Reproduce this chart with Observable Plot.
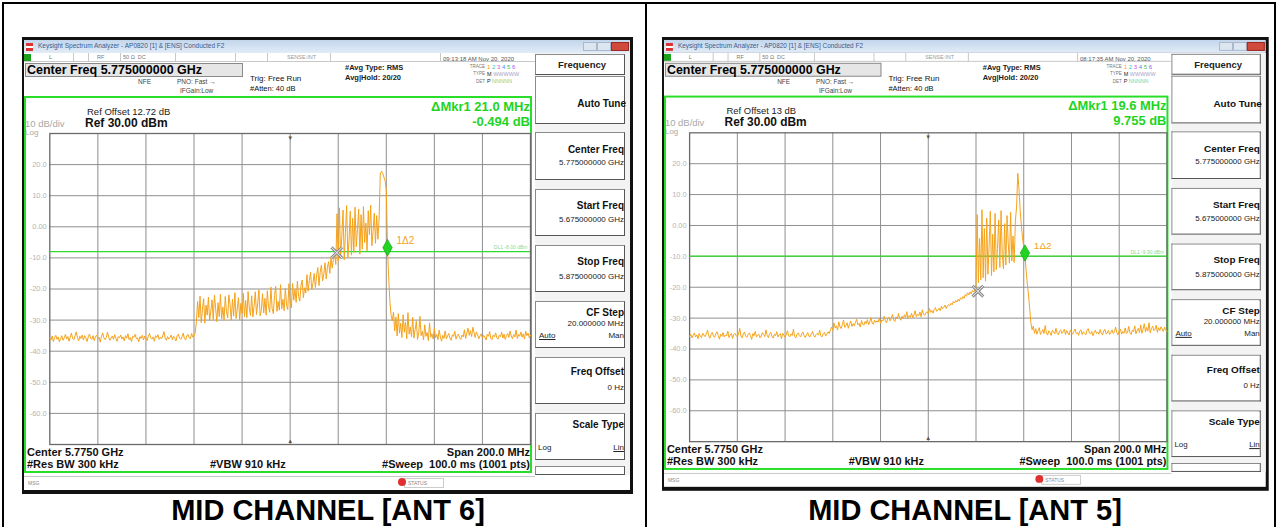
<!DOCTYPE html>
<html><head><meta charset="utf-8">
<script src="https://cdn.jsdelivr.net/npm/d3@7"></script>
<script src="https://cdn.jsdelivr.net/npm/@observablehq/plot@0.6"></script>
<style>
html,body{margin:0;padding:0;background:#fff}
body{width:1278px;height:527px;position:relative;overflow:hidden;font-family:"Liberation Sans",Arial,Helvetica,sans-serif}
.a{position:absolute;white-space:nowrap;line-height:1}
.panel{position:absolute;top:37px;width:611px;height:457px;background:#111;transform-origin:0 0}
.key{position:absolute;left:513px;width:90px;background:#fff;border:1px solid #8a8a8a;border-right-color:#555;border-bottom-color:#555;box-sizing:border-box}
.cap{position:absolute;top:496px;font-size:29px;font-weight:bold;line-height:1;white-space:nowrap;transform:translateX(-50%)}
</style></head><body>
<script>
// ---------- DATA ----------
const STEP = 0.5; // MHz between sweep points used here
const freqTicks = [5695, 5715, 5735, 5755, 5775, 5795, 5815, 5835, 5855];
const levelTicks = [20, 10, 0, -10, -20, -30, -40, -50, -60];
const levelLabels = ["20.0", "10.0", "0.00", "-10.0", "-20.0", "-30.0", "-40.0", "-50.0", "-60.0"];

// ANT 6 trace (dBm)
const ant6Floor = [-35.8,-36.4,-35.1,-36.9,-35.6,-34.9,-36.2,-35.4,-37.0,-35.9,
-35.0,-36.5,-35.7,-34.6,-36.1,-35.3,-36.8,-35.5,-34.2,-35.9,
-36.3,-35.1,-33.8,-35.6,-36.7,-35.2,-35.9,-34.8,-36.4,-35.0,
-35.7,-36.9,-35.4,-34.5,-35.8,-36.2,-35.0,-36.6,-35.3,-34.9,
-36.0,-35.5,-37.1,-35.2,-34.1,-35.7,-36.3,-35.6,-33.9,-35.4,
-36.5,-35.8,-35.1,-36.2,-34.7,-35.9,-36.8,-35.3,-35.7,-34.8,
-36.1,-35.4,-36.7,-35.0,-35.8,-34.4,-36.3,-35.6,-36.9,-35.2,
-35.5,-34.6,-36.0,-35.7,-37.0,-35.3,-35.9,-34.9,-36.4,-35.1,
-35.8,-36.6,-35.2,-34.3,-35.7,-36.1,-35.4,-36.8,-35.0,-35.6,
-34.7,-36.2,-35.5,-36.0,-35.1,-33.7,-35.8,-36.5,-35.3,-36.1,
-35.6,-34.8,-36.3,-35.2,-35.9,-36.7,-35.0,-34.5,-35.8,-36.2,
-35.4,-34.2,-35.9,-36.4,-35.1,-34.6,-35.7,-36.0,-34.3,-35.5,
-35.0,-34.1];
const ant6Ramp = [-30.5,-24.0,-29.2,-22.3,-30.8,-26.5,-23.1,-31.0,-25.2,-28.4,
-22.6,-30.2,-27.1,-23.5,-29.8,-22.0,-26.3,-30.5,-24.4,-28.9,
-21.7,-29.6,-25.8,-30.1,-22.4,-27.2,-29.3,-21.9,-25.0,-30.0,
-23.3,-28.7,-21.2,-29.5,-26.4,-22.8,-29.9,-24.6,-27.8,-21.4,
-28.9,-23.7,-29.2,-20.8,-26.1,-28.5,-22.2,-29.0,-25.4,-20.9,
-28.2,-24.8,-20.3,-28.6,-26.9,-21.5,-27.7,-23.0,-28.4,-20.6,
-25.7,-27.5,-19.4,-26.3,-27.9,-22.1,-19.2,-27.2,-24.0,-26.8,
-18.6,-26.4,-23.3,-27.0,-19.8,-25.1,-26.6,-18.3,-24.2,-26.1,
-18.2,-23.6,-20.1,-24.3,-17.5,-22.4,-23.9,-19.0,-17.1,-22.8,
-19.6,-21.3,-15.4,-20.7,-17.2,-14.6,-20.2,-18.1,-15.0,-19.5,
-15.8,-13.1,-18.9,-14.6,-12.3,-17.4,-15.2,-11.6,-16.8,-13.0,
-11.2,-15.0,-9.8,-13.3,-10.5,-8.7,-12.1];
const ant6Burst = [4.2,-11.0,6.1,-9.5,-3.2,5.4,-10.6,-1.8,6.8,-9.9,
-4.5,5.0,-9.1,2.7,-8.3,6.3,-6.4,-0.9,5.7,-8.8,
3.9,-7.2,6.5,-5.1,1.2,-7.7,5.2,-2.6,6.9,-6.1,
-1.5,4.4,-5.3,3.6,-4.0,2.5,
17.0,17.9,17.2,16.0,14.8,12.0,-6.7];
const ant6Tail = [-16.5,-24.0,-28.5,-30.2,-27.4,-33.5,-29.0,-35.1,-27.9,-34.2,
-31.0,-35.6,-28.3,-33.9,-30.6,-36.0,-27.6,-34.5,-32.2,-35.3,
-29.1,-35.8,-33.0,-30.4,-36.2,-34.1,-28.8,-35.0,-33.6,-36.4,
-31.5,-35.2,-34.0,-36.6,-30.9,-35.5,-34.4,-36.1,-32.7,-35.7,
-34.6,-36.3,-33.2,-35.4,-36.8,-34.9,-35.9,-33.5,-36.0,-35.1,
-34.3,-35.8,-36.5,-34.7,-35.2,-33.6,-36.1,-35.0,-34.5,-35.7,
-36.2,-34.8,-35.4,-33.1,-35.9,-34.2,-32.6,-34.9,-33.4,-35.3,
-32.3,-34.0,-35.6,-33.8,-34.7,-36.0,-35.1,-34.4,-35.8,-34.9,
-35.5,-36.4,-34.6,-35.2,-33.7,-35.9,-36.3,-34.8,-35.4,-34.1,
-35.7,-36.1,-34.9,-35.3,-33.9,-35.8,-34.5,-36.2,-35.0,-34.3,
-35.6,-33.5,-35.1,-36.0,-34.7,-35.4,-33.2,-35.9,-34.6,-35.2,
-33.8,-35.5,-34.4,-36.1,-33.6,-35.0,-34.2,-35.7,-34.9];

// ANT 5 trace (dBm)
const ant5Floor = [-35.9,-35.2,-36.4,-35.6,-34.8,-36.1,-35.4,-36.7,-35.0,-35.8,
-36.3,-34.9,-35.5,-36.0,-35.1,-33.9,-35.7,-36.5,-35.3,-34.6,
-35.9,-36.2,-35.0,-34.4,-35.6,-36.8,-35.2,-35.9,-34.7,-36.1,
-35.4,-35.8,-34.2,-36.3,-35.5,-35.0,-36.6,-35.3,-34.9,-35.7,
-36.0,-35.2,-33.3,-35.8,-36.4,-35.1,-34.5,-35.9,-36.2,-35.4,
-34.8,-35.6,-36.9,-35.0,-35.7,-34.3,-36.1,-35.5,-35.2,-36.4,
-35.8,-34.7,-35.3,-36.0,-33.8,-35.6,-36.3,-35.1,-34.6,-35.9,
-36.5,-35.2,-35.7,-34.4,-36.1,-35.4,-35.0,-36.7,-34.9,-35.5,
-36.2,-35.3,-34.1,-35.8,-36.0,-35.1,-35.6,-33.6,-35.9,-36.4,
-35.2,-34.8,-35.7,-36.1,-35.0,-34.5,-35.8,-36.3,-35.4,-34.7,
-35.9,-36.0,-35.1,-34.3,-35.6,-36.2,-35.3,-34.9,-35.5,-33.9,
-35.7,-36.1,-35.0,-34.6,-35.8,-35.2,-34.4,-35.0];
const ant5Ramp = [-33.8,-32.9,-34.0,-31.6,-33.2,-32.5,-33.9,-31.2,-32.8,-33.4,
-32.1,-30.6,-33.0,-32.4,-31.5,-33.3,-32.0,-30.9,-32.7,-31.8,
-32.5,-31.3,-30.4,-32.2,-31.7,-32.9,-30.8,-31.9,-32.3,-31.1,
-31.8,-30.5,-32.1,-31.2,-29.8,-31.6,-32.0,-30.7,-31.4,-30.9,
-31.3,-29.9,-31.7,-30.6,-31.0,-29.4,-30.8,-31.5,-30.2,-29.7,
-30.9,-30.1,-28.8,-30.6,-31.1,-29.6,-30.3,-28.5,-30.0,-30.7,
-29.4,-30.2,-28.9,-29.8,-27.9,-30.1,-29.2,-29.7,-28.4,-29.9,
-29.0,-27.6,-29.5,-28.7,-29.2,-28.0,-29.6,-27.3,-28.8,-29.1,
-28.3,-27.9,-28.6,-26.9,-28.1,-27.5,-28.4,-27.2,-26.6,-27.8,
-27.4,-26.8,-27.6,-26.2,-27.0,-26.5,-25.8,-26.9,-26.1,-25.6,
-26.0,-25.2,-25.7,-24.6,-25.1,-24.3,-24.8,-23.9,-24.5,-23.4,
-23.9,-23.0,-23.6,-22.4,-22.9,-21.8,-22.5,-21.5,-22.2,-21.0,
-21.6,-20.8];
const ant5Burst = [-19.8,3.5,-18.5,-4.2,-17.6,5.1,-16.9,-1.0,-18.0,2.4,
-15.8,-6.3,4.6,-16.2,-2.8,-15.0,3.9,-14.3,-7.5,1.8,
-13.6,4.8,-9.4,-14.1,0.6,-12.8,3.2,-5.7,-12.2,4.3,
-11.5,-3.4,-12.0,1.5,
6.0,16.9,12.0,5.0,0.0,-4.0,-7.0,-10.0];
const ant5Tail = [-14.5,-19.0,-22.5,-27.0,-31.5,-33.8,-32.6,-34.9,-33.4,-35.2,
-34.0,-33.1,-35.3,-34.6,-33.7,-35.0,-32.4,-34.8,-35.5,-34.1,
-34.7,-35.6,-33.9,-34.4,-35.1,-33.3,-34.9,-35.4,-34.2,-33.8,
-35.0,-34.5,-33.6,-35.3,-34.0,-34.8,-35.5,-33.9,-34.6,-35.2,
-34.3,-33.5,-35.0,-34.7,-35.6,-34.1,-33.8,-35.3,-34.4,-34.9,
-35.4,-34.0,-33.4,-34.8,-35.1,-34.3,-35.7,-34.6,-33.9,-35.0,
-34.5,-35.2,-33.7,-34.9,-35.5,-34.2,-33.6,-35.1,-34.8,-34.0,
-35.3,-34.6,-33.8,-35.0,-34.4,-32.9,-34.7,-35.4,-34.1,-33.5,
-35.2,-34.3,-34.9,-33.2,-35.0,-34.6,-32.7,-34.8,-35.3,-33.9,
-34.4,-32.5,-35.1,-34.0,-33.3,-34.7,-32.2,-34.9,-33.6,-31.8,
-34.5,-33.0,-34.2,-31.5,-34.8,-33.4,-32.6,-34.1,-33.7,-32.3,
-34.6,-33.1,-34.0,-32.8,-33.5,-34.3,-32.9,-33.8,-34.4];

// segment start frequencies (MHz)
const ant6Starts = [5675, 5736, 5794.5, 5816];
const ant5Starts = [5675, 5734, 5795, 5816];
// markers [MHz, dBm] and display line (dBm)
const ant6Marker1 = [5794.4, -8.3];
const ant6Marker2 = [5815.5, -6.7];
const ant6DisplayLine = -8.0;
const ant5Marker1 = [5795.8, -21.3];
const ant5Marker2 = [5815.5, -8.9];
const ant5DisplayLine = -9.9;

// ---------- BUILD ----------
const W = 611;
const fmt = new Map(levelTicks.map((t, i) => [t, levelLabels[i]]));
function T(x, yc, txt, size, extra = "") {
  return `<div class="a" style="left:${x}px;top:${(yc - 0.49 * size).toFixed(1)}px;font-size:${size}px;${extra}">${txt}</div>`;
}
function TR(xr, yc, txt, size, extra = "") {
  return `<div class="a" style="right:${W - xr}px;top:${(yc - 0.49 * size).toFixed(1)}px;font-size:${size}px;${extra}">${txt}</div>`;
}
function TC(xc, yc, txt, size, extra = "") {
  return `<div class="a" style="left:${xc}px;transform:translateX(-50%);top:${(yc - 0.49 * size).toFixed(1)}px;font-size:${size}px;${extra}">${txt}</div>`;
}
function rowsFrom(segs, starts) {
  const rows = [];
  segs.forEach((vals, s) => vals.forEach((v, k) => rows.push({f: starts[s] + k * STEP, db: v})));
  return rows;
}
function chart(cfg) {
  const rows = rowsFrom(cfg.segs, cfg.starts);
  const gw = 480.7, gh = 311, ml = 23.3, mt = 7;
  return Plot.plot({
    width: ml + gw + 1.5, height: mt + gh + 5,
    marginLeft: ml, marginRight: 1.5, marginTop: mt, marginBottom: 5,
    x: {domain: [5675, 5875], axis: null},
    y: {domain: [-70, 30], axis: null},
    style: {background: "transparent", fontFamily: "Liberation Sans, Arial, sans-serif", fontSize: "8px", overflow: "visible"},
    marks: [
      Plot.gridX(freqTicks, {stroke: "#8e8e8e", strokeOpacity: 1}),
      Plot.gridY(levelTicks, {stroke: "#8e8e8e", strokeOpacity: 1}),
      Plot.frame({stroke: "#6a6a6a", strokeWidth: 1.3}),
      Plot.axisY(levelTicks, {anchor: "left", tickSize: 0, tickPadding: 3, label: null, tickFormat: d => fmt.get(d), fill: "#b4b4b4", fontSize: 7.5}),
      Plot.text([5775], {x: d => d, frameAnchor: "top", text: () => "\u25BC", fontSize: 6, fill: "#555", dy: 2}),
      Plot.text([5775], {x: d => d, frameAnchor: "bottom", text: () => "\u25B2", fontSize: 6, fill: "#555", dy: -2}),
      Plot.ruleY([cfg.dl], {stroke: "#2ddc2d", strokeWidth: 1.2}),
      Plot.text([cfg.dl], {y: d => d, frameAnchor: "right", text: d => "DL1 " + d.toFixed(2) + " dBm", textAnchor: "end", dx: -3, dy: -4, fontSize: 5, fill: "#8ed88e"}),
      Plot.line(rows, {x: "f", y: "db", stroke: "#f5a21a", strokeWidth: 1}),
      Plot.dot([cfg.m1], {x: d => d[0], y: d => d[1], symbol: "times", r: 5, stroke: "#8c8c8c", strokeWidth: 3}),
      Plot.dot([cfg.m1], {x: d => d[0], y: d => d[1], symbol: "times", r: 5, stroke: "#f4f4f4", strokeWidth: 1}),
      Plot.dot([cfg.m2], {x: d => d[0], y: d => d[1], symbol: "diamond", r: 5, fill: "#22d422", stroke: "#119911", strokeWidth: 0.6}),
      Plot.text([cfg.m2], {x: d => d[0], y: d => d[1], text: () => "1\u03942", dx: 9, dy: -7, textAnchor: "start", fill: "#f2a31a", fontSize: 10})
    ]
  });
}
function panel(cfg) {
  const p = document.createElement("div");
  p.className = "panel";
  p.style.left = cfg.left + "px";
  if (cfg.scale !== 1) p.style.transform = `scale(${cfg.scale})`;
  let h = "";
  // title bar
  h += `<div class="a" style="left:2px;top:3px;width:606px;height:13px;background:linear-gradient(#c3d6ec,#e2ecf7)"></div>`;
  h += `<div class="a" style="left:4px;top:6px;width:7px;height:8px;background:linear-gradient(#d33 0 40%,#fff 40% 62%,#d33 62%)"></div>`;
  h += T(16, 9.5, "Keysight Spectrum Analyzer - AP0820 [1] &amp; [ENS] Conducted F2", 6.5, "color:#3d5a8a");
  h += `<div class="a" style="left:561px;top:5px;width:12px;height:7px;background:#dce6f1;border:1px solid #a9b8cc"></div>`;
  h += `<div class="a" style="left:575px;top:5px;width:12px;height:7px;background:#dce6f1;border:1px solid #a9b8cc"></div>`;
  h += `<div class="a" style="left:589px;top:5px;width:16px;height:7px;background:#cf4a3c;border:1px solid #9a2a20"></div>`;
  // body
  h += `<div class="a" style="left:2px;top:16px;width:606px;height:437px;background:#fff"></div>`;
  // status row
  h += `<div class="a" style="left:2px;top:16px;width:511px;height:9px;border-bottom:1px solid #c8c8c8;box-sizing:border-box"></div>`;
  h += `<div class="a" style="left:2px;top:17px;width:7px;height:7px;background:#1aa01a"></div>`;
  for (const x of [51, 66, 98, 153, 213, 245, 308, 418]) h += `<div class="a" style="left:${x}px;top:16px;width:1px;height:9px;background:#c8c8c8"></div>`;
  h += T(27, 21, "L", 5.5, "color:#777");
  h += T(75, 21, "RF", 5.5, "color:#777");
  h += T(101, 21, "50 \u03A9 &nbsp;DC", 5.5, "color:#777");
  h += T(265, 21, "SENSE:INT", 5.5, "color:#999");
  h += T(421, 21.5, cfg.date, 6, "color:#555");
  // center freq box
  h += `<div class="a" style="left:3px;top:26px;width:218px;height:14px;background:#e6e6e6;border:1px solid #8a8a8a;box-sizing:border-box"></div>`;
  h += T(5, 33.5, "Center Freq 5.775000000 GHz", 12.5, "font-weight:bold;color:#000");
  h += T(116, 45, "NFE", 6.5, "color:#444");
  h += T(155, 45, "PNO: Fast \u2192", 6.5, "color:#444");
  h += T(158, 54, "IFGain:Low", 6.5, "color:#444");
  h += T(228, 42, "Trig: Free Run", 8, "color:#111");
  h += T(228, 52, "#Atten: 40 dB", 7.5, "color:#111");
  h += T(323, 31, "#Avg Type: RMS", 7.5, "font-weight:bold;color:#222");
  h += T(323, 41, "Avg|Hold: 20/20", 7.5, "font-weight:bold;color:#222");
  h += TR(463, 30, "TRACE", 4.5, "color:#777");
  h += TR(463, 37.5, "TYPE", 4.5, "color:#777");
  h += TR(463, 45, "DET", 4.5, "color:#777");
  const tc = ["#f0a000", "#22cccc", "#e04ee0", "#3a8ef0", "#3cc43c", "#9a5af0"];
  h += T(465, 30, tc.map((c, i) => `<span style="color:${c}">${i + 1}</span>`).join(" "), 6);
  h += T(465, 37.5, `<span style="color:#222">M</span> <span style="color:#a99fc8">WWWWW</span>`, 5.5);
  h += T(465, 45, `<span style="color:#222">P</span> <span style="color:#8ccf8c">NNNNN</span>`, 5.5);
  // green display frame
  h += `<div class="a" style="left:2px;top:59px;width:${cfg.frameW}px;height:377px;border:2px solid #28de28;box-sizing:border-box"></div>`;
  h += T(65, 75, cfg.refOffset, 9.5, "color:#222");
  h += T(63, 86, "Ref 30.00 dBm", 12, "font-weight:bold;color:#111");
  h += T(3, 86.3, "10 dB/div", 9.5, "color:#a8a8a8");
  h += T(3, 95.8, "Log", 8, "color:#a8a8a8");
  h += TR(508, 69, cfg.mkr1, 13, "font-weight:bold;color:#1fd41f");
  h += TR(508, 84, cfg.mkr2, 13, "font-weight:bold;color:#1fd41f");
  h += T(5, 415, "Center 5.7750 GHz", 11, "font-weight:bold;color:#111");
  h += TR(508, 415, "Span 200.0 MHz", 11, "font-weight:bold;color:#111");
  h += T(5, 427, "#Res BW 300 kHz", 11, "font-weight:bold;color:#111");
  h += T(188, 427, "#VBW 910 kHz", 11, "font-weight:bold;color:#111");
  h += TR(508, 427, "#Sweep &nbsp;100.0 ms (1001 pts)", 11, "font-weight:bold;color:#111");
  // message bar
  h += `<div class="a" style="left:2px;top:439px;width:511px;height:1px;background:#c8c8c8"></div>`;
  h += T(6, 446, "MSG", 5, "color:#888");
  h += `<div class="a" style="left:382px;top:441px;width:40px;height:10px;border:1px solid #ccc;box-sizing:border-box"></div>`;
  h += `<div class="a" style="left:376px;top:441px;width:8px;height:8px;border-radius:50%;background:#e03030"></div>`;
  h += T(386, 446, "STATUS", 5, "color:#888");
  // softkeys
  h += `<div class="a" style="left:513px;top:16px;width:95px;height:422px;background:#f3f3f3"></div>`;
  const keys = [[17, 21], [39, 48], [95, 48], [152, 47], [208, 47], [264, 47], [320, 47], [376, 47], [429, 9]];
  for (const [t, hh] of keys) h += `<div class="key" style="top:${t}px;height:${hh}px"></div>`;
  h += TC(560, 28, "Frequency", 9.5, "font-weight:bold;color:#222");
  h += TR(604, 67, "Auto Tune", 10, "font-weight:bold;color:#111");
  h += TR(602, 113, "Center Freq", 10, "font-weight:bold;color:#111");
  h += TR(602, 126, "5.775000000 GHz", 8, "color:#222");
  h += TR(602, 169, "Start Freq", 10, "font-weight:bold;color:#111");
  h += TR(602, 183, "5.675000000 GHz", 8, "color:#222");
  h += TR(602, 225, "Stop Freq", 10, "font-weight:bold;color:#111");
  h += TR(602, 240, "5.875000000 GHz", 8, "color:#222");
  h += TR(602, 276, "CF Step", 10, "font-weight:bold;color:#111");
  h += TR(602, 287, "20.000000 MHz", 8, "color:#222");
  h += T(517, 299, "Auto", 8, "color:#222;text-decoration:underline");
  h += TR(602, 299, "Man", 8, "color:#222");
  h += TR(602, 335, "Freq Offset", 10, "font-weight:bold;color:#111");
  h += TR(602, 351, "0 Hz", 8, "color:#222");
  h += TR(602, 388, "Scale Type", 10, "font-weight:bold;color:#111");
  h += T(516, 411, "Log", 8, "color:#222");
  h += TR(602, 411, "Lin", 8, "color:#222;text-decoration:underline");
  p.innerHTML = h;
  const svg = chart(cfg);
  svg.style.position = "absolute";
  svg.style.left = "4px";
  svg.style.top = "89px";
  p.appendChild(svg);
  document.body.appendChild(p);
}

// table borders
for (const [l, t, w, hh] of [[2, 2, 1274, 2], [2, 2, 2, 525], [645, 2, 2, 525], [1274, 2, 2, 525]]) {
  const d = document.createElement("div");
  d.style.cssText = `position:absolute;left:${l}px;top:${t}px;width:${w}px;height:${hh}px;background:#000`;
  document.body.appendChild(d);
}

panel({left: 22, scale: 1, frameW: 508, date: "09:13:18 AM Nov 20, 2020", refOffset: "Ref Offset 12.72 dB",
  mkr1: "\u0394Mkr1 21.0 MHz", mkr2: "-0.494 dB",
  segs: [ant6Floor, ant6Ramp, ant6Burst, ant6Tail], starts: ant6Starts,
  m1: ant6Marker1, m2: ant6Marker2, dl: ant6DisplayLine});
panel({left: 662, scale: 0.993, frameW: 508, date: "08:17:35 AM Nov 20, 2020", refOffset: "Ref Offset 13 dB",
  mkr1: "\u0394Mkr1 19.6 MHz", mkr2: "9.755 dB",
  segs: [ant5Floor, ant5Ramp, ant5Burst, ant5Tail], starts: ant5Starts,
  m1: ant5Marker1, m2: ant5Marker2, dl: ant5DisplayLine});

for (const [x, txt] of [[328, "MID CHANNEL [ANT 6]"], [965, "MID CHANNEL [ANT 5]"]]) {
  const c = document.createElement("div");
  c.className = "cap";
  c.style.left = x + "px";
  c.textContent = txt;
  document.body.appendChild(c);
}
</script>
</body></html>
